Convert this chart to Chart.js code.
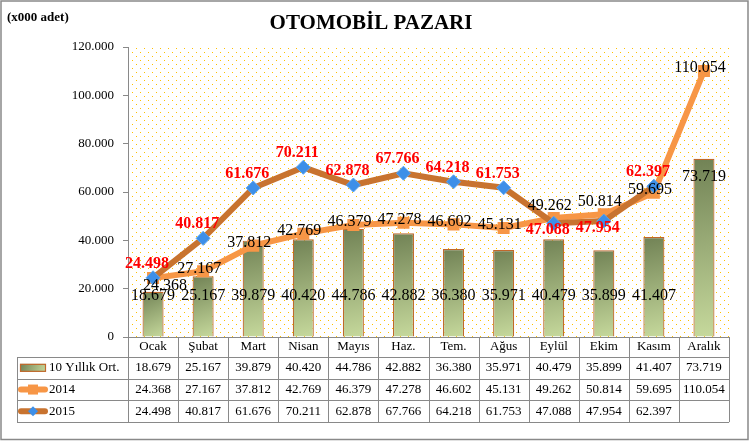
<!DOCTYPE html>
<html>
<head>
<meta charset="utf-8">
<script src="https://cdn.jsdelivr.net/npm/chart.js@4"></script>
<style>
  body { margin: 0; background: #fff; }
</style>
</head>
<body>
<canvas id="myChart" width="750" height="441"></canvas>
<script>
// Otomobil pazari (x000 adet) //

var months = ['Ocak', 'Şubat', 'Mart', 'Nisan', 'Mayıs', 'Haz.', 'Tem.', 'Ağus', 'Eylül', 'Ekim', 'Kasım', 'Aralık'];
var avg10 = [18679, 25167, 39879, 40420, 44786, 42882, 36380, 35971, 40479, 35899, 41407, 73719];
var y2014 = [24368, 27167, 37812, 42769, 46379, 47278, 46602, 45131, 49262, 50814, 59695, 110054];
var y2015 = [24498, 40817, 61676, 70211, 62878, 67766, 64218, 61753, 47088, 47954, 62397, null];
var yTicks = [0, 20000, 40000, 60000, 80000, 100000, 120000];

var SERIF = '"Liberation Serif", "Times New Roman", serif';
var GRAY = '#898989';

function fmt(v) {
  return String(v).replace(/\B(?=(\d{3})+(?!\d))/g, '.');
}

// gradient for each bar, dark top-left to light bottom-right
function barFill(ctx) {
  var chart = ctx.chart;
  if (!chart.chartArea || ctx.dataIndex === undefined) return '#9fb37a';
  var x = chart.scales.x.getPixelForValue(ctx.dataIndex);
  var top = chart.scales.y.getPixelForValue(avg10[ctx.dataIndex]);
  var bottom = chart.chartArea.bottom;
  var g = chart.ctx.createLinearGradient(x - 10, top, x + 10, bottom);
  g.addColorStop(0, '#718255');
  g.addColorStop(1, '#c6d99c');
  return g;
}

var backdrop = {
  id: 'backdrop',
  beforeDraw: function(chart) {
    var ctx = chart.ctx, a = chart.chartArea;
    ctx.save();
    ctx.fillStyle = '#fff';
    ctx.fillRect(0, 0, chart.width, chart.height);
    var pat = document.createElement('canvas');
    pat.width = 8; pat.height = 8;
    var pc = pat.getContext('2d');
    pc.fillStyle = '#ffc000';
    pc.fillRect(0, 0, 1, 1);
    pc.fillRect(4, 4, 1, 1);
    ctx.fillStyle = ctx.createPattern(pat, 'repeat');
    ctx.fillRect(a.left, a.top, a.right - a.left, a.bottom - a.top);
    ctx.restore();
  }
};

var labels = {
  id: 'labels',
  afterDatasetsDraw: function(chart) {
    var ctx = chart.ctx, ys = chart.scales.y;
    ctx.save();
    ctx.textAlign = 'center';
    ctx.textBaseline = 'middle';
    ctx.font = '16px ' + SERIF;
    ctx.fillStyle = '#000';
    chart.getDatasetMeta(0).data.forEach(function(bar, i) {
      var y = avg10[i] > 60000 ? bar.y + 18 : ys.getPixelForValue(17000);
      ctx.fillText(fmt(avg10[i]), bar.x, y);
    });
    chart.getDatasetMeta(1).data.forEach(function(pt, i) {
      var b = y2015[i];
      var dx = -4, dy = -3;
      if (b !== null && b < y2014[i]) dy = -12;          // 2015 runs just under it
      else if (b !== null && b - y2014[i] < 1500) { dx = 12; dy = 8; } // same spot
      ctx.fillText(fmt(y2014[i]), pt.x + dx, pt.y + dy);
    });
    ctx.font = 'bold 16px ' + SERIF;
    ctx.fillStyle = '#ff0000';
    chart.getDatasetMeta(2).data.forEach(function(pt, i) {
      if (y2015[i] === null) return;
      var dy = y2015[i] < y2014[i] ? 7 : -14;
      ctx.fillText(fmt(y2015[i]), pt.x - 6, pt.y + dy);
    });
    ctx.restore();
  }
};

var table = {
  id: 'table',
  afterDraw: function(chart) {
    var ctx = chart.ctx, a = chart.chartArea, xs = chart.scales.x;
    var cw = (a.right - a.left) / months.length;
    var legLeft = 17;
    var hdrBottom = a.bottom + 20;
    var rowH = 21.7;
    var tBottom = hdrBottom + rowH * 3;
    ctx.save();
    ctx.strokeStyle = GRAY;
    ctx.lineWidth = 1;
    ctx.beginPath();
    // axis line + header
    ctx.moveTo(a.left, a.bottom + 0.5); ctx.lineTo(a.right, a.bottom + 0.5);
    for (var k = 0; k <= months.length; k++) {
      var vx = Math.round(a.left + k * cw) + 0.5;
      ctx.moveTo(vx, a.bottom); ctx.lineTo(vx, tBottom);
    }
    for (var r = 0; r <= 3; r++) {
      var hy = Math.round(hdrBottom + r * rowH) + 0.5;
      ctx.moveTo(legLeft, hy); ctx.lineTo(a.right, hy);
    }
    ctx.moveTo(legLeft + 0.5, hdrBottom); ctx.lineTo(legLeft + 0.5, tBottom);
    ctx.stroke();

    ctx.fillStyle = '#000';
    ctx.font = '13px ' + SERIF;
    ctx.textAlign = 'center';
    ctx.textBaseline = 'middle';
    months.forEach(function(m, i) {
      ctx.fillText(m, xs.getPixelForValue(i), a.bottom + 10);
    });
    var rows = [avg10, y2014, y2015];
    rows.forEach(function(vals, r) {
      var cy = hdrBottom + r * rowH + rowH / 2;
      vals.forEach(function(v, i) {
        if (v === null) return;
        ctx.fillText(fmt(v), xs.getPixelForValue(i), cy);
      });
    });

    // legend keys
    var names = ['10 Yıllık Ort.', '2014', '2015'];
    ctx.textAlign = 'left';
    names.forEach(function(n, r) {
      var cy = hdrBottom + r * rowH + rowH / 2;
      if (r === 0) {
        var g = ctx.createLinearGradient(20, cy - 4, 46, cy + 4);
        g.addColorStop(0, '#718255');
        g.addColorStop(1, '#c6d99c');
        ctx.fillStyle = g;
        ctx.fillRect(20, cy - 4, 26, 8);
        ctx.strokeStyle = '#c0682c';
        ctx.lineWidth = 1.2;
        ctx.strokeRect(20.5, cy - 3.5, 25, 7);
      } else {
        ctx.strokeStyle = r === 1 ? '#f79646' : '#c8732f';
        ctx.lineWidth = 6;
        ctx.lineCap = 'round';
        ctx.beginPath();
        ctx.moveTo(21, cy); ctx.lineTo(45, cy);
        ctx.stroke();
        ctx.lineCap = 'butt';
        if (r === 1) {
          ctx.fillStyle = '#f79646';
          ctx.fillRect(28, cy - 5, 10, 10);
        } else {
          ctx.fillStyle = '#3d8fe8';
          ctx.beginPath();
          ctx.moveTo(33, cy - 5); ctx.lineTo(38, cy); ctx.lineTo(33, cy + 5); ctx.lineTo(28, cy);
          ctx.closePath();
          ctx.fill();
        }
      }
      ctx.fillStyle = '#000';
      ctx.fillText(n, 49, cy);
    });

    // titles
    ctx.textAlign = 'center';
    ctx.font = 'bold 21px ' + SERIF;
    ctx.fillText('OTOMOBİL PAZARI', 371, 24);
    ctx.textAlign = 'left';
    ctx.font = 'bold 13px ' + SERIF;
    ctx.fillText('(x000 adet)', 7, 18);

    // outer frame
    ctx.strokeStyle = GRAY;
    ctx.lineWidth = 1.5;
    ctx.strokeRect(1, 1, chart.width - 3, chart.height - 2.5);
    ctx.restore();
  }
};

var chart = document.getElementById('myChart');
var myChart = new Chart(chart, {
  type: 'bar',
  data: {
    labels: months,
    datasets: [{
      label: '10 Yıllık Ort.',
      data: avg10,
      backgroundColor: barFill,
      borderColor: '#c0682c',
      borderWidth: 1.2,
      barPercentage: 0.42,
      categoryPercentage: 1,
      order: 3
    }, {
      type: 'line',
      label: '2014',
      data: y2014,
      borderColor: '#f79646',
      borderWidth: 6,
      backgroundColor: '#f79646',
      pointStyle: 'rect',
      pointRadius: 8.5,
      pointBorderWidth: 0,
      tension: 0,
      order: 2
    }, {
      type: 'line',
      label: '2015',
      data: y2015,
      borderColor: '#c8732f',
      borderWidth: 6,
      backgroundColor: '#3d8fe8',
      pointBackgroundColor: '#3d8fe8',
      pointBorderColor: '#5aa5f0',
      pointBorderWidth: 1,
      pointStyle: 'rectRot',
      pointRadius: 7,
      tension: 0,
      order: 1
    }]
  },
  options: {
    responsive: false,
    animation: false,
    devicePixelRatio: 1,
    layout: { padding: { left: 0, right: 21, top: 47, bottom: 104 } },
    plugins: {
      legend: { display: false },
      tooltip: { enabled: false }
    },
    scales: {
      x: { display: false, offset: true },
      y: {
        min: 0,
        max: 120000,
        afterFit: function(scale) { scale.width = 128; },
        afterBuildTicks: function(scale) {
          scale.ticks = yTicks.map(function(v) { return { value: v }; });
        },
        ticks: {
          color: '#000',
          padding: 9,
          font: { family: SERIF, size: 13 },
          callback: function(v) { return fmt(v); }
        },
        grid: { drawOnChartArea: false, tickLength: 5, color: GRAY },
        border: { color: GRAY, width: 1 }
      }
    }
  },
  plugins: [backdrop, labels, table]
});
</script>
</body>
</html>
